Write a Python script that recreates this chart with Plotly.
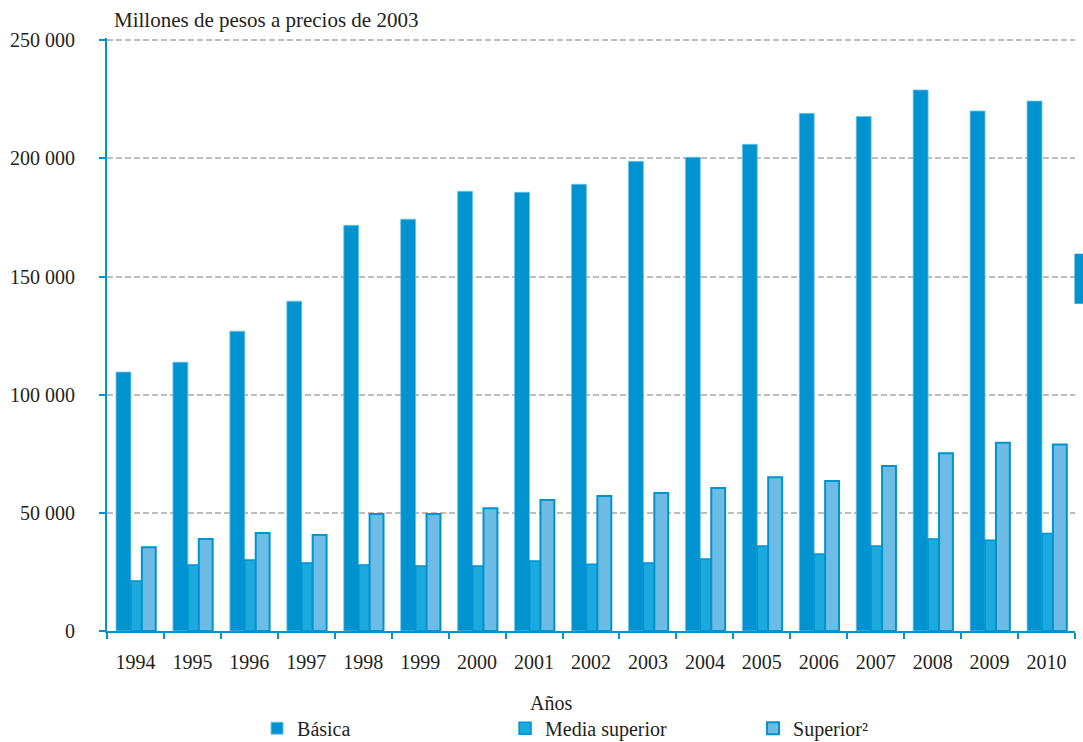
import plotly.graph_objects as go

years = [str(y) for y in range(1994, 2011)]
basica = [109600, 113800, 126900, 139600, 171700, 174300, 186100, 185700, 189100,
          198800, 200500, 206000, 219100, 217800, 229000, 220100, 224300]
media_superior = [21200, 27900, 30000, 28800, 27900, 27500, 27500, 29600, 28300,
                  28800, 30500, 36000, 32600, 36000, 38900, 38400, 41300]
superior = [35500, 38900, 41500, 40600, 49500, 49500, 52000, 55400, 57100,
            58400, 60500, 65100, 63500, 69800, 75200, 79700, 78900]
y_ticks = [0, 50000, 100000, 150000, 200000, 250000]
y_tick_text = ["0", "50 000", "100 000", "150 000", "200 000", "250 000"]

BLUE = "#0093D0"
FONT = "Liberation Serif"
TXT = "#231F20"
FS = 20

fig = go.Figure()
fig.add_trace(go.Bar(name="Básica", x=years, y=basica, width=0.262, offset=-0.342,
                     marker=dict(color=BLUE, line=dict(color="#6CC4EC", width=0.8))))
fig.add_trace(go.Bar(name="Media superior", x=years, y=media_superior, width=0.192, offset=-0.08,
                     marker=dict(color="#1CA9DD", line=dict(color=BLUE, width=1.5))))
fig.add_trace(go.Bar(name="Superior²", x=years, y=superior, width=0.244, offset=0.112,
                     marker=dict(color="#6DBCE5", line=dict(color=BLUE, width=2))))

fig.update_layout(
    width=1083, height=742,
    margin=dict(l=107, r=8, t=38, b=111, autoexpand=False),
    paper_bgcolor="white", plot_bgcolor="white",
    font=dict(family=FONT, size=FS, color=TXT),
    barmode="overlay",
    showlegend=True,
    legend=dict(orientation="h", x=0.155, xanchor="left", y=-0.131, yanchor="top",
                entrywidth=203, entrywidthmode="pixels", font=dict(size=20, family=FONT, color=TXT),
                itemwidth=30, traceorder="normal", bgcolor="rgba(0,0,0,0)"),
    annotations=[
        dict(text="Millones de pesos a precios de 2003", xref="paper", yref="paper",
             x=0.005, y=1.0, xanchor="left", yanchor="bottom", yshift=4,
             showarrow=False, font=dict(size=21, family=FONT, color=TXT)),
        dict(text="Años", xref="paper", yref="paper", x=0.459, y=-0.1214,
             xanchor="center", yanchor="middle", showarrow=False,
             font=dict(size=FS, family=FONT, color=TXT)),
    ],
    shapes=[dict(type="rect", xref="paper", yref="paper", x0=0.9995, x1=1.02, y0=0.552, y1=0.636,
                 fillcolor=BLUE, line=dict(width=0), layer="above")],
)
fig.update_xaxes(
    type="category", showline=True, linecolor=BLUE, linewidth=2,
    ticks="outside", tickson="boundaries", ticklen=6, tickwidth=2, tickcolor=BLUE,
    showgrid=False, tickfont=dict(size=FS, family=FONT, color=TXT),
    ticklabelstandoff=12, automargin=False,
    range=[-0.5, 16.5], fixedrange=True,
)
fig.update_yaxes(
    range=[0, 251000], tickvals=y_ticks, ticktext=y_tick_text,
    showline=True, linecolor=BLUE, linewidth=2,
    ticks="outside", ticklen=6, tickwidth=2, tickcolor=BLUE,
    showgrid=True, gridcolor="#BDBDBD", gridwidth=1.8, griddash="6px,3px",
    zeroline=False, tickfont=dict(size=FS, family=FONT, color=TXT),
    ticklabelstandoff=20, automargin=False, fixedrange=True,
)

fig.write_html("out.html", config={"displayModeBar": False},
               post_script="document.body.style.margin='0';document.body.style.padding='0';document.body.style.overflow='hidden';")
